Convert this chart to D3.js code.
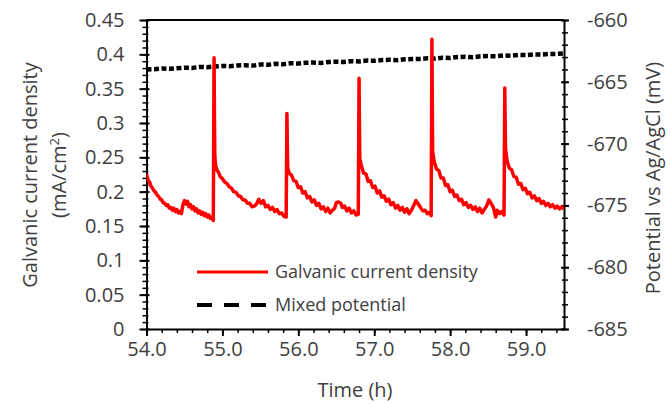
<!DOCTYPE html>
<html>
<head>
<meta charset="utf-8">
<script src="https://cdn.jsdelivr.net/npm/d3@7"></script>
<style>
  body { margin: 0; background: #fff; }
  text { font-family: "Open Sans", sans-serif; fill: #404040; }
</style>
</head>
<body>
<div id="chart"></div>
<script>
// galvanic current density (mA/cm2) vs time (h)
var currentTime = [
  54.00,54.02,54.04,54.06,54.08,54.10,54.12,54.14,54.16,54.18,54.20,54.22,54.24,54.26,54.28,54.30,
  54.32,54.34,54.36,54.38,54.40,54.42,54.44,54.46,54.48,54.50,54.52,54.54,54.56,54.58,54.60,54.62,
  54.64,54.66,54.68,54.70,54.72,54.74,54.76,54.78,54.80,54.82,54.84,54.86,54.88,54.89,54.895,54.90,
  54.91,54.93,54.95,54.97,55.00,55.03,55.06,55.09,55.12,55.15,55.18,55.21,55.24,55.27,55.30,55.33,
  55.36,55.39,55.42,55.45,55.48,55.51,55.54,55.57,55.60,55.63,55.66,55.69,55.72,55.75,55.78,55.81,
  55.84,55.85,55.855,55.86,55.88,55.91,55.94,55.97,56.00,56.03,56.06,56.09,56.12,56.15,56.18,56.21,
  56.24,56.27,56.30,56.33,56.36,56.39,56.42,56.45,56.48,56.50,56.53,56.56,56.58,56.61,56.64,56.67,
  56.70,56.73,56.76,56.79,56.80,56.805,56.81,56.83,56.86,56.89,56.92,56.95,56.98,57.01,57.04,57.07,
  57.10,57.13,57.16,57.19,57.22,57.25,57.28,57.31,57.34,57.37,57.40,57.43,57.46,57.49,57.52,57.55,
  57.58,57.61,57.64,57.67,57.70,57.73,57.75,57.76,57.765,57.77,57.79,57.82,57.85,57.88,57.91,57.94,
  57.97,58.00,58.03,58.06,58.09,58.12,58.15,58.18,58.21,58.24,58.27,58.30,58.33,58.36,58.39,58.42,
  58.45,58.48,58.51,58.54,58.57,58.60,58.62,58.65,58.68,58.71,58.72,58.725,58.73,58.75,58.78,58.81,
  58.84,58.87,58.90,58.93,58.96,58.99,59.02,59.05,59.08,59.11,59.14,59.17,59.20,59.23,59.26,59.29,
  59.32,59.35,59.38,59.41,59.44,59.47,59.50
];
var currentValue = [
  0.226,0.217,0.214,0.208,0.205,0.201,0.199,0.195,0.193,0.189,0.188,0.184,0.183,0.180,0.181,0.176,
  0.177,0.173,0.176,0.171,0.174,0.169,0.171,0.168,0.181,0.187,0.182,0.186,0.178,0.181,0.175,0.178,
  0.172,0.175,0.169,0.172,0.167,0.170,0.165,0.168,0.163,0.166,0.161,0.163,0.158,0.395,0.310,0.252,
  0.238,0.231,0.228,0.222,0.219,0.214,0.212,0.207,0.205,0.200,0.199,0.194,0.193,0.188,0.188,0.183,
  0.183,0.178,0.179,0.182,0.189,0.183,0.187,0.178,0.180,0.174,0.177,0.171,0.174,0.168,0.169,0.164,
  0.163,0.314,0.270,0.235,0.227,0.224,0.216,0.215,0.206,0.207,0.198,0.200,0.191,0.193,0.185,0.188,
  0.180,0.183,0.175,0.178,0.171,0.176,0.169,0.173,0.176,0.184,0.185,0.183,0.177,0.179,0.172,0.176,
  0.169,0.172,0.166,0.167,0.365,0.300,0.248,0.238,0.227,0.226,0.215,0.216,0.206,0.208,0.198,0.201,
  0.192,0.194,0.186,0.189,0.181,0.184,0.176,0.180,0.173,0.177,0.170,0.175,0.168,0.173,0.180,0.187,
  0.182,0.177,0.172,0.173,0.168,0.170,0.165,0.422,0.330,0.258,0.244,0.233,0.231,0.220,0.220,0.209,
  0.210,0.200,0.202,0.193,0.195,0.187,0.189,0.181,0.184,0.177,0.180,0.174,0.178,0.171,0.176,0.169,
  0.174,0.179,0.188,0.183,0.177,0.163,0.173,0.168,0.171,0.166,0.351,0.300,0.262,0.245,0.234,0.232,
  0.222,0.221,0.211,0.212,0.203,0.205,0.197,0.199,0.191,0.194,0.187,0.190,0.183,0.186,0.180,0.183,
  0.178,0.181,0.176,0.179,0.175,0.178,0.175
];

// mixed potential (mV vs Ag/AgCl)
var potentialTime = [
  54.0,54.1,54.2,54.3,54.4,54.5,54.6,54.7,54.8,54.9,55.0,55.1,55.2,55.3,55.4,55.5,55.6,55.7,55.8,
  55.9,56.0,56.1,56.2,56.3,56.4,56.5,56.6,56.7,56.8,56.9,57.0,57.1,57.2,57.3,57.4,57.5,57.6,57.7,
  57.8,57.9,58.0,58.1,58.2,58.3,58.4,58.5,58.6,58.7,58.8,58.9,59.0,59.1,59.2,59.3,59.4,59.5
];
var mixedPotential = [
  -664.00,-663.98,-663.93,-663.95,-663.90,-663.86,-663.88,-663.80,-663.82,-663.76,-663.72,-663.74,
  -663.68,-663.66,-663.69,-663.60,-663.62,-663.55,-663.58,-663.50,-663.52,-663.46,-663.44,-663.47,
  -663.40,-663.38,-663.40,-663.33,-663.35,-663.28,-663.30,-663.24,-663.22,-663.25,-663.18,-663.16,
  -663.15,-663.10,-663.12,-663.05,-663.07,-663.00,-662.98,-663.01,-662.94,-662.92,-662.93,-662.87,
  -662.89,-662.83,-662.84,-662.79,-662.80,-662.75,-662.74,-662.70
];

var xTicks = [54, 55, 56, 57, 58, 59];
var xTickLabels = ["54.0", "55.0", "56.0", "57.0", "58.0", "59.0"];
var yLeftTicks = [0, 0.05, 0.1, 0.15, 0.2, 0.25, 0.3, 0.35, 0.4, 0.45];
var yLeftLabels = ["0", "0.05", "0.1", "0.15", "0.2", "0.25", "0.3", "0.35", "0.4", "0.45"];
var yRightTicks = [-685, -680, -675, -670, -665, -660];
var yRightLabels = ["-685", "-680", "-675", "-670", "-665", "-660"];
var seriesNames = ["Galvanic current density", "Mixed potential"];

(function () {
  var width = 670, height = 405;
  var plotLeft = 146.5, plotRight = 564, plotTop = 20, plotBottom = 329;

  var svg = d3.select("#chart").append("svg")
    .attr("width", width)
    .attr("height", height);

  var x = d3.scaleLinear().domain([54, 59.5]).range([plotLeft, plotRight]);
  var yL = d3.scaleLinear().domain([0, 0.45]).range([plotBottom, plotTop]);
  var yR = d3.scaleLinear().domain([-685, -660]).range([plotBottom, plotTop]);

  // clip to plot
  svg.append("clipPath").attr("id", "plot")
    .append("rect").attr("x", plotLeft).attr("y", plotTop)
    .attr("width", plotRight - plotLeft).attr("height", plotBottom - plotTop);

  // top border
  svg.append("line")
    .attr("x1", plotLeft).attr("x2", plotRight).attr("y1", plotTop).attr("y2", plotTop)
    .attr("stroke", "#000").attr("stroke-width", 2);

  // minor ticks
  svg.append("g").attr("transform", "translate(" + plotLeft + ",0)")
    .call(d3.axisLeft(yL).tickValues(d3.range(0, 0.451, 0.01)).tickFormat("").tickSize(4).tickSizeOuter(0))
    .call(function (g) { g.select(".domain").remove(); g.selectAll(".tick line").attr("x1", 2).attr("stroke", "#000").attr("stroke-width", 1.5); });
  svg.append("g").attr("transform", "translate(" + plotRight + ",0)")
    .call(d3.axisRight(yR).tickValues(d3.range(-685, -659.5, 1)).tickFormat("").tickSize(4).tickSizeOuter(0))
    .call(function (g) { g.select(".domain").remove(); g.selectAll(".tick line").attr("x1", -2).attr("stroke", "#000").attr("stroke-width", 1.5); });
  svg.append("g").attr("transform", "translate(0," + plotBottom + ")")
    .call(d3.axisBottom(x).tickValues(d3.range(54, 59.45, 0.2)).tickFormat("").tickSize(4).tickSizeOuter(0))
    .call(function (g) { g.select(".domain").remove(); g.selectAll(".tick line").attr("stroke", "#000").attr("stroke-width", 1.5); });

  // major axes
  var gL = svg.append("g").attr("transform", "translate(" + plotLeft + ",0)")
    .call(d3.axisLeft(yL).tickValues(yLeftTicks).tickFormat(function (d, i) { return yLeftLabels[i]; })
      .tickSize(7).tickSizeOuter(0).tickPadding(15));
  var gR = svg.append("g").attr("transform", "translate(" + plotRight + ",0)")
    .call(d3.axisRight(yR).tickValues(yRightTicks).tickFormat(function (d, i) { return yRightLabels[i]; })
      .tickSize(5).tickSizeOuter(0).tickPadding(18));
  var gB = svg.append("g").attr("transform", "translate(0," + plotBottom + ")")
    .call(d3.axisBottom(x).tickValues(xTicks).tickFormat(function (d, i) { return xTickLabels[i]; })
      .tickSize(7).tickSizeOuter(0).tickPadding(6));

  [gL, gR, gB].forEach(function (g) {
    g.select(".domain").attr("stroke", "#000").attr("stroke-width", 2);
    g.selectAll(".tick line").attr("stroke", "#000").attr("stroke-width", 2);
    g.selectAll(".tick text")
      .style("font-family", '"Open Sans", sans-serif')
      .style("font-size", "20px")
      .attr("fill", "#404040");
  });
  gL.selectAll(".tick line").attr("x1", 3);
  gR.selectAll(".tick line").attr("x1", -3);

  // mixed potential line
  var potLine = d3.line()
    .x(function (d, i) { return x(potentialTime[i]); })
    .y(function (d) { return yR(d); });
  svg.append("path")
    .datum(mixedPotential)
    .attr("clip-path", "url(#plot)")
    .attr("d", potLine)
    .attr("fill", "none")
    .attr("stroke", "#000")
    .attr("stroke-width", 4.5)
    .attr("stroke-dasharray", "5,2.5");

  // galvanic current line
  var curLine = d3.line()
    .x(function (d, i) { return x(currentTime[i]); })
    .y(function (d) { return yL(d); });
  svg.append("path")
    .datum(currentValue)
    .attr("clip-path", "url(#plot)")
    .attr("d", curLine)
    .attr("fill", "none")
    .attr("stroke", "#ff0000")
    .attr("stroke-width", 3.5)
    .attr("stroke-linejoin", "round");

  // legend
  var legend = svg.append("g");
  legend.append("line")
    .attr("x1", 197).attr("x2", 268).attr("y1", 272).attr("y2", 272)
    .attr("stroke", "#ff0000").attr("stroke-width", 3);
  legend.append("line")
    .attr("x1", 197).attr("x2", 268).attr("y1", 305).attr("y2", 305)
    .attr("stroke", "#000").attr("stroke-width", 4).attr("stroke-dasharray", "15,12");
  legend.selectAll(".legend_label")
    .data(seriesNames)
    .enter().append("text")
    .attr("class", "legend_label")
    .attr("x", 275)
    .attr("y", function (d, i) { return 278 + i * 33; })
    .style("font-size", "18px")
    .text(function (d) { return d; });

  // axis titles
  svg.append("text")
    .attr("x", 355).attr("y", 397)
    .attr("text-anchor", "middle")
    .style("font-size", "20px")
    .text("Time (h)");

  svg.append("text")
    .attr("transform", "translate(37,175) rotate(-90)")
    .attr("text-anchor", "middle")
    .style("font-size", "20px")
    .text("Galvanic current density");

  var unit = svg.append("text")
    .attr("transform", "translate(66,175) rotate(-90)")
    .attr("text-anchor", "middle")
    .style("font-size", "20px");
  unit.append("tspan").text("(mA/cm");
  unit.append("tspan").attr("dy", -7).style("font-size", "13px").text("2");
  unit.append("tspan").attr("dy", 7).text(")");

  svg.append("text")
    .attr("transform", "translate(660,178) rotate(-90)")
    .attr("text-anchor", "middle")
    .style("font-size", "20px")
    .text("Potential vs Ag/AgCl (mV)");
})();
</script>
</body>
</html>
